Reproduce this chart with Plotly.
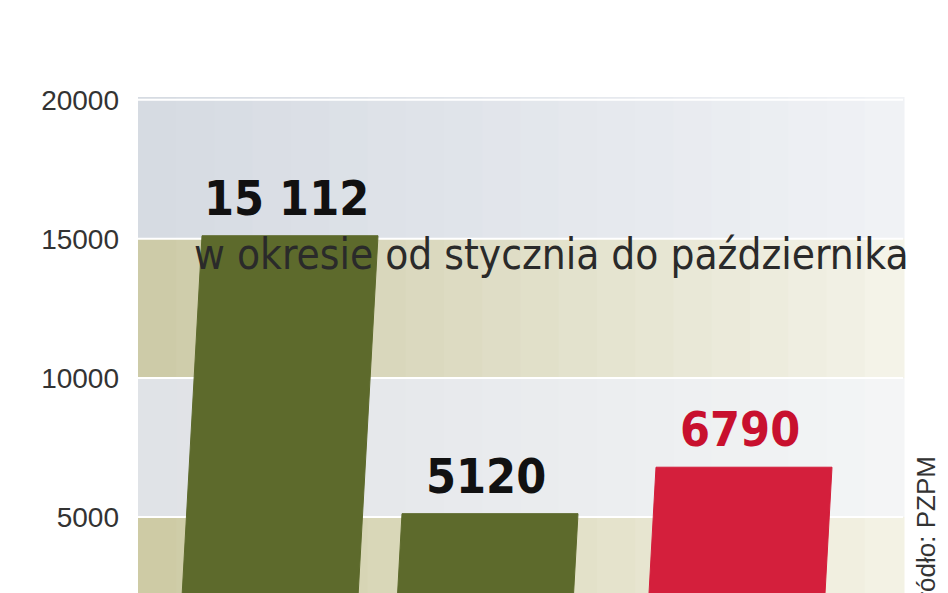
import plotly.graph_objects as go

categories = ["A", "B", "C"]
values = [15112, 5120, 6790]
labels = ["15 112", "5120", "6790"]
colors = ["#5d6a2c", "#5d6a2c", "#d41f3c"]
label_colors = ["#111111", "#111111", "#c8102e"]
positions = [0.76, 1.76, 3.03]
yticks = [5000, 10000, 15000, 20000]

W, H = 948, 593
L, R, T, B = 130, 53, 89, 0
ymin, ymax = 1980, 20100
width = 0.88
slant = 7.7e-6

fig = go.Figure()

bands = [(15000, 20100, (214, 219, 226), (240, 242, 245)),
         (10000, 15000, (205, 203, 168), (244, 243, 232)),
         (5000, 10000, (224, 227, 231), (244, 245, 246)),
         (ymin, 5000, (206, 203, 165), (243, 242, 228))]
n = 20
for y0, y1, c0, c1 in bands:
    for k in range(n):
        t = k / (n - 1)
        c = tuple(int(c0[j] + (c1[j] - c0[j]) * t) for j in range(3))
        fig.add_shape(type="rect", xref="paper", yref="y", x0=k / n, x1=(k + 1) / n + 0.002,
                      y0=y0, y1=y1, fillcolor="rgb(%d,%d,%d)" % c, line_width=0, layer="below")
for yt in yticks:
    fig.add_shape(type="line", xref="paper", yref="y", x0=0, x1=1, y0=yt, y1=yt,
                  line=dict(color="white", width=2), layer="below")

for i, v in enumerate(values):
    cx = positions[i]
    off = slant * (v - ymin)
    xs = [cx - width / 2 - off, cx + width / 2 - off, cx + width / 2, cx - width / 2, cx - width / 2 - off]
    ys = [ymin, ymin, v, v, ymin]
    fig.add_trace(go.Scatter(x=xs, y=ys, fill="toself", fillcolor=colors[i], mode="lines",
                             line=dict(color=colors[i], width=1), hoverinfo="skip", showlegend=False))
    fig.add_annotation(x=cx - 0.02, y=v, yshift=8, text="<b>%s</b>" % labels[i], showarrow=False,
                       yanchor="bottom", font=dict(family="DejaVu Sans Condensed, Liberation Sans", size=48,
                                                    color=label_colors[i]))

fig.add_annotation(xref="paper", yref="paper", x=0.54,
                   text="w okresie od stycznia do października", showarrow=False, yshift=95,
                   font=dict(family="DejaVu Sans Condensed, Liberation Sans", size=42, color="#2a2a2a"))
fig.add_annotation(xref="paper", yref="y", x=(935 - L) / (W - L - R), y=4300,
                   text="Źródło: PZPM", textangle=-90, showarrow=False,
                   font=dict(family="Liberation Sans", size=26, color="#333333"))

fig.update_layout(
    width=W, height=H, margin=dict(l=L, r=R, t=T, b=B),
    paper_bgcolor="white", plot_bgcolor="rgba(0,0,0,0)",
    xaxis=dict(range=[0, 3.825], visible=False, fixedrange=True),
    yaxis=dict(range=[ymin, ymax], tickvals=yticks, ticktext=[str(t) for t in yticks],
               showgrid=False, zeroline=False, ticks="", ticklabelstandoff=18,
               tickfont=dict(family="Liberation Sans", size=28, color="#333333")),
)
fig.write_html("out.html")
